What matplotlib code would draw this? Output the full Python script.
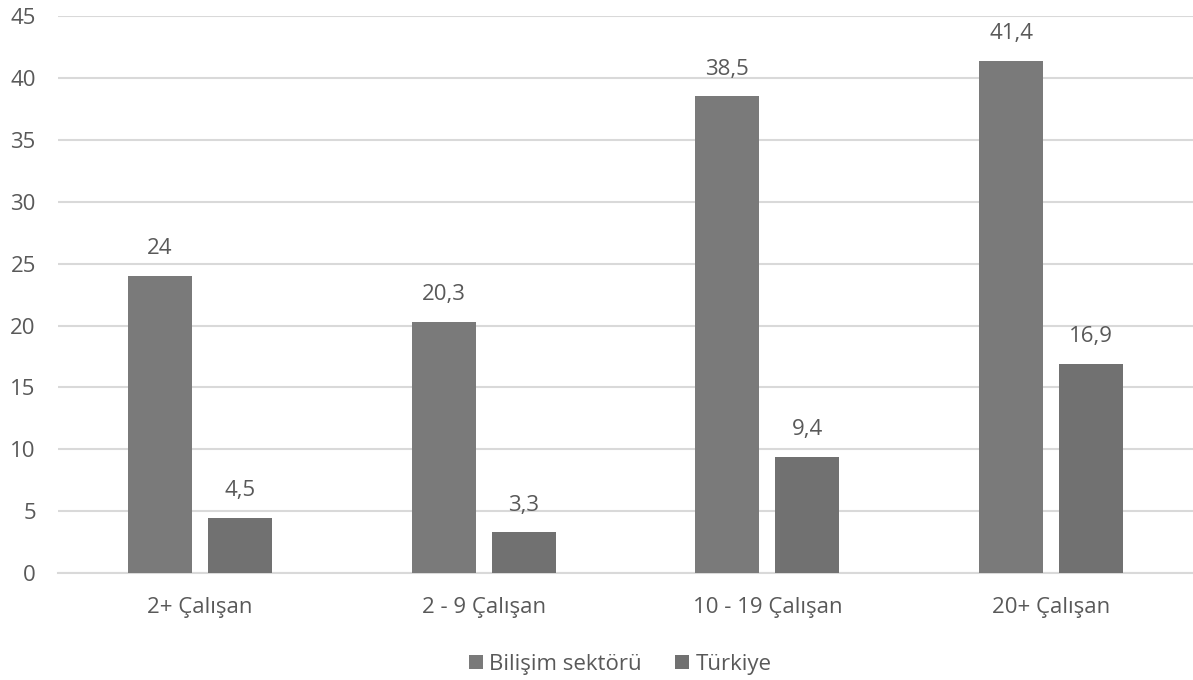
import numpy as np
import matplotlib.pyplot as plt

plt.rcParams['font.family'] = ['Open Sans', 'DejaVu Sans']

categories = ['2+ Çalışan', '2 - 9 Çalışan', '10 - 19 Çalışan', '20+ Çalışan']
bilisim = [24, 20.3, 38.5, 41.4]
turkiye = [4.5, 3.3, 9.4, 16.9]
series_names = ['Bilişim sektörü', 'Türkiye']

text_color = '#595959'
grid_color = '#d9d9d9'

fig = plt.figure(figsize=(11.93, 6.8), dpi=100)
ax = fig.add_axes([0.0486, 0.157, 0.9514, 0.8195])

x = np.arange(len(categories))
w = 0.226
gap = 0.056
off = (w + gap) / 2

b1 = ax.bar(x - off, bilisim, w, color='#7a7a7a', label=series_names[0], zorder=3)
b2 = ax.bar(x + off, turkiye, w, color='#717171', label=series_names[1], zorder=3)

for bars, vals in [(b1, bilisim), (b2, turkiye)]:
    for rect, v in zip(bars, vals):
        lbl = f'{v:g}'.replace('.', ',')
        ax.annotate(lbl, (rect.get_x() + rect.get_width() / 2, v),
                    xytext=(0, 12), textcoords='offset points',
                    ha='center', va='bottom', fontsize=16, color=text_color)

ax.set_xlim(-0.5, len(categories) - 0.5)
ax.set_ylim(0, 45)
ax.set_yticks(range(0, 46, 5))
ax.set_xticks(x)
ax.set_xticklabels(categories)
ax.yaxis.grid(True, color=grid_color, linewidth=1.5, zorder=0)
ax.tick_params(axis='both', length=0, labelsize=16, colors=text_color)
ax.tick_params(axis='x', pad=17)
ax.tick_params(axis='y', pad=16)
for s in ['top', 'right', 'left']:
    ax.spines[s].set_visible(False)
ax.spines['bottom'].set_color(grid_color)
ax.spines['bottom'].set_linewidth(1.5)

fig.legend(loc='lower center', bbox_to_anchor=(0.52, -0.022), ncol=2, frameon=False,
           fontsize=16, labelcolor=text_color, handlelength=0.6, handleheight=0.6,
           handletextpad=0.3, columnspacing=1.5)

fig.savefig('out.png', dpi=100)
